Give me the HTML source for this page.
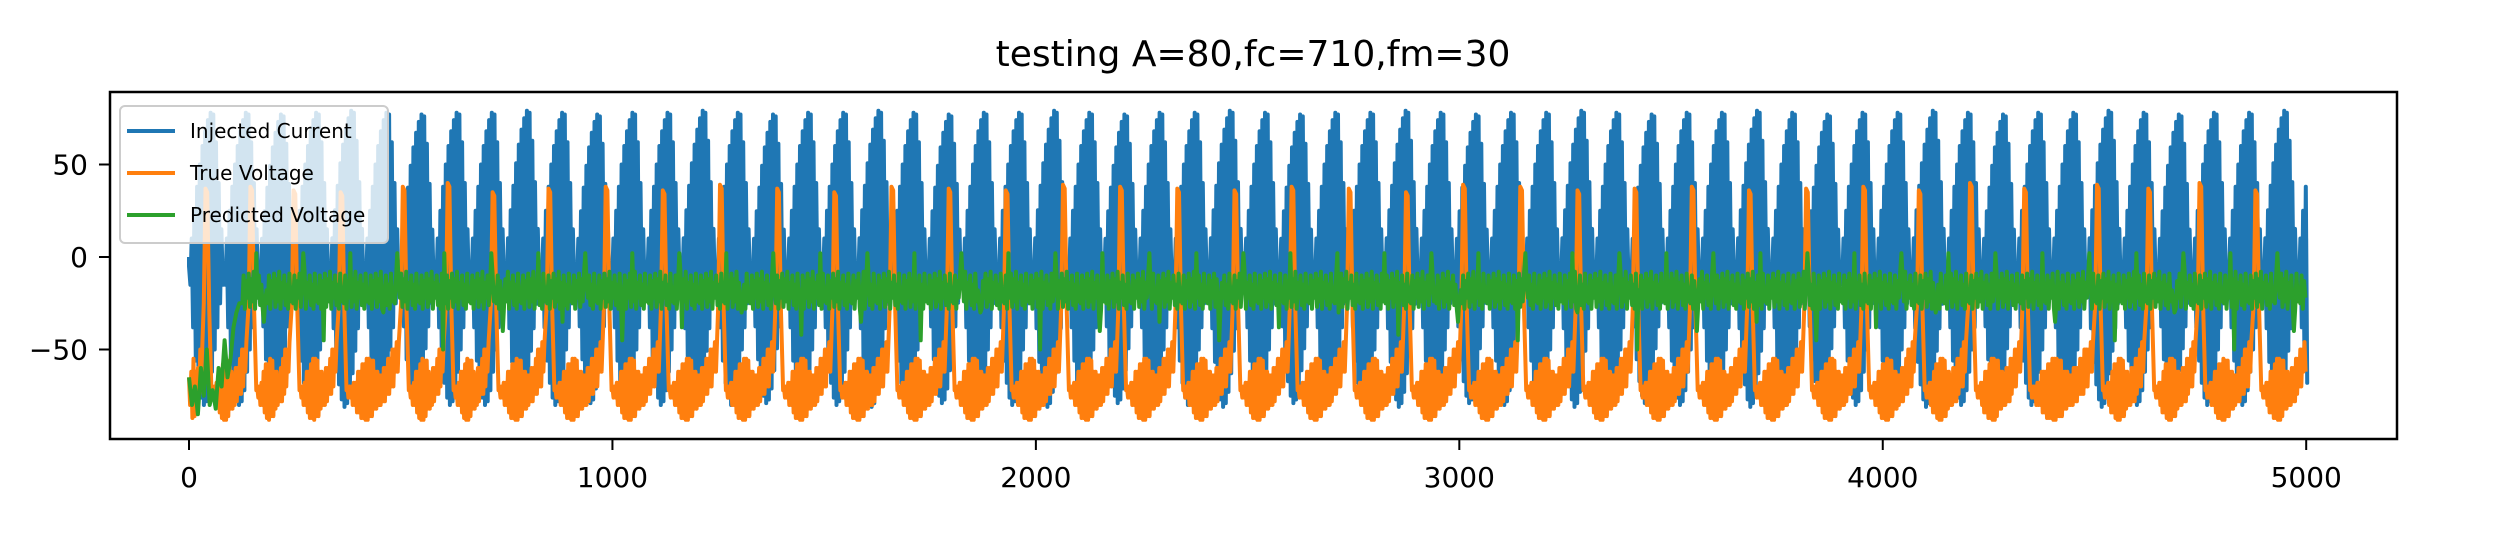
<!DOCTYPE html>
<html><head><meta charset="utf-8"><style>
html,body{margin:0;padding:0;background:#fff;}
svg{display:block;font-family:"DejaVu Sans","Liberation Sans",sans-serif;}
</style></head><body>
<svg id="chart" width="2502" height="540" viewBox="0 0 2502 540">
<rect x="0" y="0" width="2502" height="540" fill="#fff"/>
<text x="1253" y="66" font-size="36" text-anchor="middle">testing A=80,fc=710,fm=30</text>
<defs><clipPath id="clip"><rect x="110" y="92" width="2287" height="347"/></clipPath></defs>
<g id="series" clip-path="url(#clip)"></g>
<rect x="110" y="92" width="2287" height="347" fill="none" stroke="#000" stroke-width="2.5"/>
<g id="axes"></g>
<g>
<rect x="120" y="106" width="268" height="137" rx="5" fill="#fff" fill-opacity="0.8" stroke="#ccc" stroke-width="2"/>
<line x1="127" y1="131" x2="175" y2="131" stroke="#1f77b4" stroke-width="4"/>
<text x="190" y="138" font-size="20">Injected Current</text>
<line x1="127" y1="173" x2="175" y2="173" stroke="#ff7f0e" stroke-width="4"/>
<text x="190" y="180" font-size="20">True Voltage</text>
<line x1="127" y1="215" x2="175" y2="215" stroke="#2ca02c" stroke-width="4"/>
<text x="190" y="222" font-size="20">Predicted Voltage</text>
</g>
</svg>
<script>
const xTicks = [0, 1000, 2000, 3000, 4000, 5000];
const yTicks = [50, 0, -50];
const burstPeriod = 83;
const currentPeaks = [78,78,77,78,79,78,77,78,78,79,78,77,78,78,79,78,77,78,78,79,78,77,78,78,79,78,77,78,78,79,78,77,78,78,79,78,77,78,78,79,78,77,78,78,79,78,77,78,78,79,78,77,78,78,79,78,77,78,78,79,78];
const currentUpper = [-5,10,25,38,50,60,68,74,78,77,62,40,15];
const currentLower = [-15,-38,-56,-68,-76,-80,-78,-72,-62,-50,-38,-25,-15];
const spikeTimes = [40,146,248,359,506,612,718,850,985,1120,1255,1390,1525,1660,1795,1930,2065,2200,2335,2470,2605,2740,2875,3010,3145,3280,3415,3550,3685,3820,3955,4086,4207,4335,4507,4628,4749,4881];
const spikePeaks = [37,38,36,35,38,40,35,37,38,36,39,37,35,38,37,36,39,38,37,36,38,37,35,39,38,36,37,38,36,37,38,36,40,37,39,37,40,36];
const trueBaseHigh = [-70,-68,-62,-58,-55,-56,-62,-64,-60,-55,-50,-46];
const trueBaseLow = [-76,-80,-84,-87,-88,-86,-82,-80,-78,-74,-70,-62];
const predictedTemplate = [-25,-10,-28,-13,-22,-9,-27,-12,-24,-8,-28,-14,-22,-10,-26,-15,-28,-9,-24,-18];
const predictedStart = [-65,-80,-70,-85,-60,-75,-50,-80,-72,-82,-60,-70,-45,-65,-55,-38,-30,-25];
const predictedDips = [-35,-45,-30,-50,-40,-35,-45,-38,-30,-42];

const X = t => 189 + t * 0.42344;
const Y = v => 257 - v * 1.85;
const NS = 'http://www.w3.org/2000/svg';
const series = document.getElementById('series');
const axes = document.getElementById('axes');

function addPath(pts, color, name) {
  const p = document.createElementNS(NS, 'polyline');
  p.setAttribute('points', pts.map(q => X(q[0]).toFixed(1) + ',' + Y(q[1]).toFixed(1)).join(' '));
  p.setAttribute('fill', 'none');
  p.setAttribute('stroke', color);
  p.setAttribute('stroke-width', '4');
  p.setAttribute('stroke-linejoin', 'round');
  
  
  series.appendChild(p);
}

// Injected current
const cur = [[0, 0]];
currentPeaks.forEach((pk, k) => {
  const n = currentUpper.length;
  for (let j = 0; j < n; j++) {
    const t0 = k * burstPeriod + j * burstPeriod / n;
    if (t0 > 5000) break;
    cur.push([t0, currentUpper[j] * pk / 78]);
    cur.push([t0 + burstPeriod / n / 2, currentLower[j] * pk / 78]);
  }
});
cur.push([5000, 10]);
addPath(cur, '#1f77b4', 'injected-current-line');

// True voltage
const tv = [];
let prev = 0;
spikeTimes.forEach((st, i) => {
  const gapEnd = st - 8;
  const n = trueBaseHigh.length;
  const len = gapEnd - prev;
  const steps = Math.max(4, Math.floor(len / 2.5));
  for (let s = 0; s < steps; s++) {
    const idx = Math.floor(s / steps * n);
    tv.push([prev + s * len / steps, s % 2 ? trueBaseLow[idx] : trueBaseHigh[idx]]);
  }
  tv.push([st - 5, -25]);
  tv.push([st - 1, spikePeaks[i]]);
  tv.push([st + 3, spikePeaks[i] - 2]);
  tv.push([st + 8, -30]);
  tv.push([st + 13, -72]);
  prev = st + 15;
});
for (let t = prev, s = 0; t <= 5000; t += 2.5, s++) {
  const idx = Math.min(trueBaseHigh.length - 1, Math.floor((t - prev) / (5000 - prev + 1) * trueBaseHigh.length));
  tv.push([t, s % 2 ? trueBaseLow[idx] : trueBaseHigh[idx]]);
}
tv[0] = [0, -65];
addPath(tv, '#ff7f0e', 'true-voltage-line');

// Predicted voltage
const pv = [];
predictedStart.forEach((v, i) => pv.push([i * 7, v]));
let k = 0;
for (let t = predictedStart.length * 7; t <= 5000; t += 3, k++) {
  let v = predictedTemplate[k % predictedTemplate.length];
  if (k % 47 === 17) v = predictedDips[Math.floor(k / 47) % predictedDips.length];
  if (k % 37 === 11) v = 2;
  pv.push([t, v]);
}
addPath(pv, '#2ca02c', 'predicted-voltage-line');

// Axes ticks
xTicks.forEach(v => {
  const l = document.createElementNS(NS, 'line');
  l.setAttribute('x1', X(v)); l.setAttribute('x2', X(v));
  l.setAttribute('y1', 439); l.setAttribute('y2', 450);
  l.setAttribute('stroke', '#000'); l.setAttribute('stroke-width', '2');
  
  
  axes.appendChild(l);
  const t = document.createElementNS(NS, 'text');
  t.setAttribute('x', X(v)); t.setAttribute('y', 487);
  t.setAttribute('font-size', '28'); t.setAttribute('text-anchor', 'middle');
  t.textContent = String(v);
  
  
  axes.appendChild(t);
});
yTicks.forEach(v => {
  const l = document.createElementNS(NS, 'line');
  l.setAttribute('x1', 99); l.setAttribute('x2', 110);
  l.setAttribute('y1', Y(v)); l.setAttribute('y2', Y(v));
  l.setAttribute('stroke', '#000'); l.setAttribute('stroke-width', '2');
  
  
  axes.appendChild(l);
  const t = document.createElementNS(NS, 'text');
  t.setAttribute('x', 88); t.setAttribute('y', Y(v) + 10);
  t.setAttribute('font-size', '28'); t.setAttribute('text-anchor', 'end');
  t.textContent = v < 0 ? '\u2212' + Math.abs(v) : String(v);
  
  
  axes.appendChild(t);
});
</script>
</body></html>
